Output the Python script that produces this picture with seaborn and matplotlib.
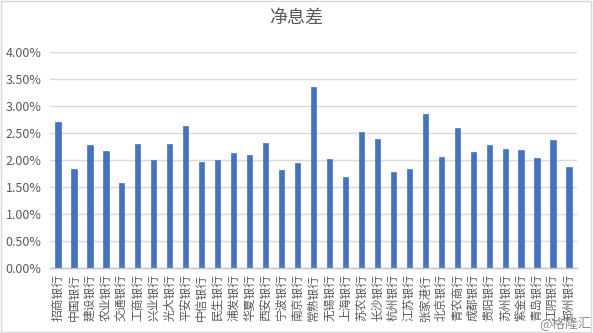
import matplotlib
matplotlib.use("Agg")
import matplotlib.pyplot as plt
import seaborn as sns
import pandas as pd
from matplotlib.ticker import PercentFormatter, MultipleLocator
from matplotlib.patches import Rectangle

banks = ["招商银行", "中国银行", "建设银行", "农业银行", "交通银行", "工商银行", "兴业银行",
         "光大银行", "平安银行", "中信银行", "民生银行", "浦发银行", "华夏银行", "西安银行",
         "宁波银行", "南京银行", "常熟银行", "无锡银行", "上海银行", "苏农银行", "长沙银行",
         "杭州银行", "江苏银行", "张家港行", "北京银行", "青农商行", "成都银行", "贵阳银行",
         "苏州银行", "紫金银行", "青岛银行", "江阴银行", "郑州银行"]
nim = [2.70, 1.84, 2.27, 2.16, 1.58, 2.30, 2.00, 2.29, 2.63, 1.97, 2.00, 2.13, 2.10, 2.31,
       1.81, 1.94, 3.36, 2.01, 1.69, 2.52, 2.38, 1.77, 1.84, 2.86, 2.05, 2.59, 2.15, 2.27,
       2.21, 2.19, 2.04, 2.37, 1.87]
title = "净息差"

sns.set_theme(style="white")
plt.rcParams['font.family'] = ['Noto Sans CJK SC', 'DejaVu Sans']

df = pd.DataFrame({"bank": banks, "nim": nim})

fig = plt.figure(figsize=(5.93, 3.33), dpi=100)
ax = fig.add_axes([50/593, 1-268/333, 527/593, 216/333])
sns.barplot(data=df, x="bank", y="nim", color="#4472C4", width=0.33, ax=ax,
            saturation=1, edgecolor="#4472C4", linewidth=0.5)
ax.set_xlim(-0.5, len(banks)-0.5)
ax.set_ylim(0, 4.0)
ax.yaxis.set_major_locator(MultipleLocator(0.5))
ax.yaxis.set_major_formatter(PercentFormatter(100, decimals=2))
ax.grid(axis="y", color="#D9D9D9", linewidth=1)
ax.set_axisbelow(True)
for s in ["left", "right", "top"]:
    ax.spines[s].set_visible(False)
ax.spines["bottom"].set_color("#BFBFBF")
ax.spines["bottom"].set_linewidth(1)
ax.set_xlabel("")
ax.set_ylabel("")
ax.tick_params(axis="x", length=0, pad=4, labelsize=8.5, labelcolor="#595959", rotation=90)
ax.tick_params(axis="y", length=0, pad=6, labelsize=9, labelcolor="#595959")
for lbl in ax.get_xticklabels():
    lbl.set_verticalalignment("top")

fig.text(0.5, 1-18/333, title, ha="center", va="center", fontsize=13, color="#595959")
fig.text(0.997, 0.005, "@格隆汇", ha="right", va="bottom", fontsize=9.5, color="#8C8C8C")
fig.patches.append(Rectangle((0.002, 0.003), 0.995, 0.994, transform=fig.transFigure,
                             fill=False, edgecolor="#D9D9D9", linewidth=1))
fig.savefig("out.png", dpi=100)
